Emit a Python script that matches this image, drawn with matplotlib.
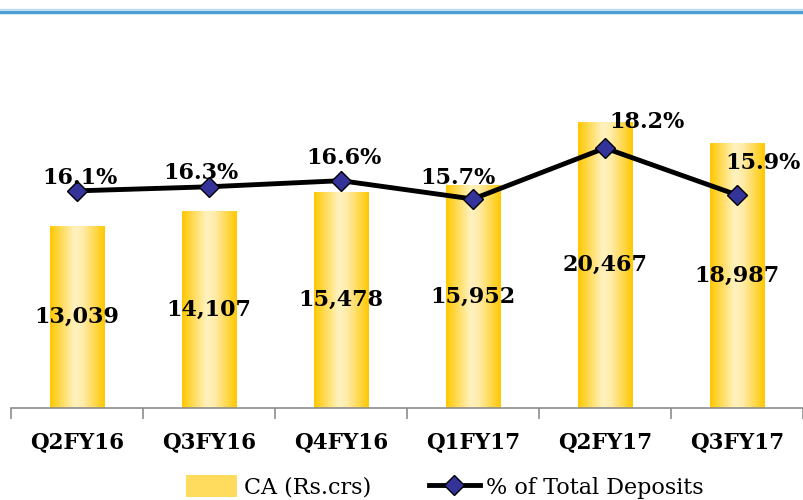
import numpy as np
import matplotlib
matplotlib.use("Agg")
import matplotlib.pyplot as plt
from matplotlib.lines import Line2D
from matplotlib.patches import Rectangle
from matplotlib.colors import LinearSegmentedColormap

categories = ["Q2FY16", "Q3FY16", "Q4FY16", "Q1FY17", "Q2FY17", "Q3FY17"]
ca_values = [13039, 14107, 15478, 15952, 20467, 18987]
pct_values = [16.1, 16.3, 16.6, 15.7, 18.2, 15.9]
bar_labels = ["13,039", "14,107", "15,478", "15,952", "20,467", "18,987"]
pct_labels = ["16.1%", "16.3%", "16.6%", "15.7%", "18.2%", "15.9%"]

# label offsets (points) for the percentage labels
pct_offsets = [(2, 9), (-6, 10), (2, 16), (-11, 15), (30, 19), (19, 23)]

W, H = 804, 500
fig = plt.figure(figsize=(W / 100, H / 100), dpi=100)
ax_left, ax_right = 11 / W, 803 / W
ax_bottom = (H - 408) / H
ax_top = (H - 40) / H
ax = fig.add_axes([ax_left, ax_bottom, ax_right - ax_left, ax_top - ax_bottom])

x = np.arange(len(categories))
bars = ax.bar(x, ca_values, width=0.41, color="none", edgecolor="none", zorder=2)

cmap = LinearSegmentedColormap.from_list(
    "gold", [(0.0, "#FFC800"), (0.45, "#FFF2C0"), (0.6, "#FFECAA"), (1.0, "#FFC800")])
grad = np.linspace(0, 1, 256).reshape(1, -1)
for b in bars:
    x0, y0 = b.get_x(), b.get_y()
    w, h = b.get_width(), b.get_height()
    im = ax.imshow(grad, cmap=cmap, aspect="auto", extent=(x0, x0 + w, y0, y0 + h),
                   zorder=2, interpolation="bilinear")
    clip = Rectangle((x0, y0), w, h, transform=ax.transData)
    im.set_clip_path(clip)

ax.set_xlim(-0.5, len(categories) - 0.5)
ax.set_ylim(0, 26350)

for xi, v, lab in zip(x, ca_values, bar_labels):
    ax.text(xi, v / 2, lab, ha="center", va="center", fontsize=16,
            fontweight="bold", family="DejaVu Serif", color="black", zorder=5)

for s in ["top", "left", "right"]:
    ax.spines[s].set_visible(False)
ax.spines["bottom"].set_color("#8c8c8c")
ax.spines["bottom"].set_linewidth(1.2)
ax.set_yticks([])
ax.set_xticks(x)
ax.set_xticklabels(categories, fontsize=15.5, fontweight="bold", family="DejaVu Serif")
ax.tick_params(axis="x", which="major", length=0, pad=17)
ax.set_xticks(np.arange(-0.5, len(categories), 1.0), minor=True)
ax.tick_params(axis="x", which="minor", length=8, color="#8c8c8c", width=1.2)

ax2 = ax.twinx()
ax2.set_ylim(5.45, 23.5)
ax2.set_yticks([])
for s in ["top", "left", "right", "bottom"]:
    ax2.spines[s].set_visible(False)
line, = ax2.plot(x, pct_values, color="black", lw=3.5, marker="D", markersize=10,
                 markerfacecolor="#333399", markeredgecolor="black", markeredgewidth=1,
                 zorder=4)
for xi, v, lab, off in zip(x, pct_values, pct_labels, pct_offsets):
    ax2.annotate(lab, (xi, v), xytext=off, textcoords="offset points",
                 ha="center", va="center", fontsize=16, fontweight="bold",
                 family="DejaVu Serif", color="black", zorder=6)

# legend
handles = [Rectangle((0, 0), 1, 1, facecolor="#FFDC5E", edgecolor="none"),
           Line2D([], [], color="black", lw=3.5, marker="D", markersize=10,
                  markerfacecolor="#333399", markeredgecolor="black")]
fig.legend(handles, ["CA (Rs.crs)", "% of Total Deposits"], loc="center",
           bbox_to_anchor=(445 / W, 1 - 487 / H), ncol=2, frameon=False,
           prop={"family": "DejaVu Serif", "size": 16}, handlelength=2.3,
           handleheight=1.1, handletextpad=0.3, columnspacing=2.6)

# top decorative blue rule
fig.add_artist(Line2D([0, 1], [1 - 9 / H, 1 - 9 / H], color="#B8D8EE", lw=1.0,
                      transform=fig.transFigure))
fig.add_artist(Line2D([0, 1], [1 - 11.5 / H, 1 - 11.5 / H], color="#4A9FD4", lw=2.5,
                      transform=fig.transFigure))

fig.savefig("out.png", dpi=100)
